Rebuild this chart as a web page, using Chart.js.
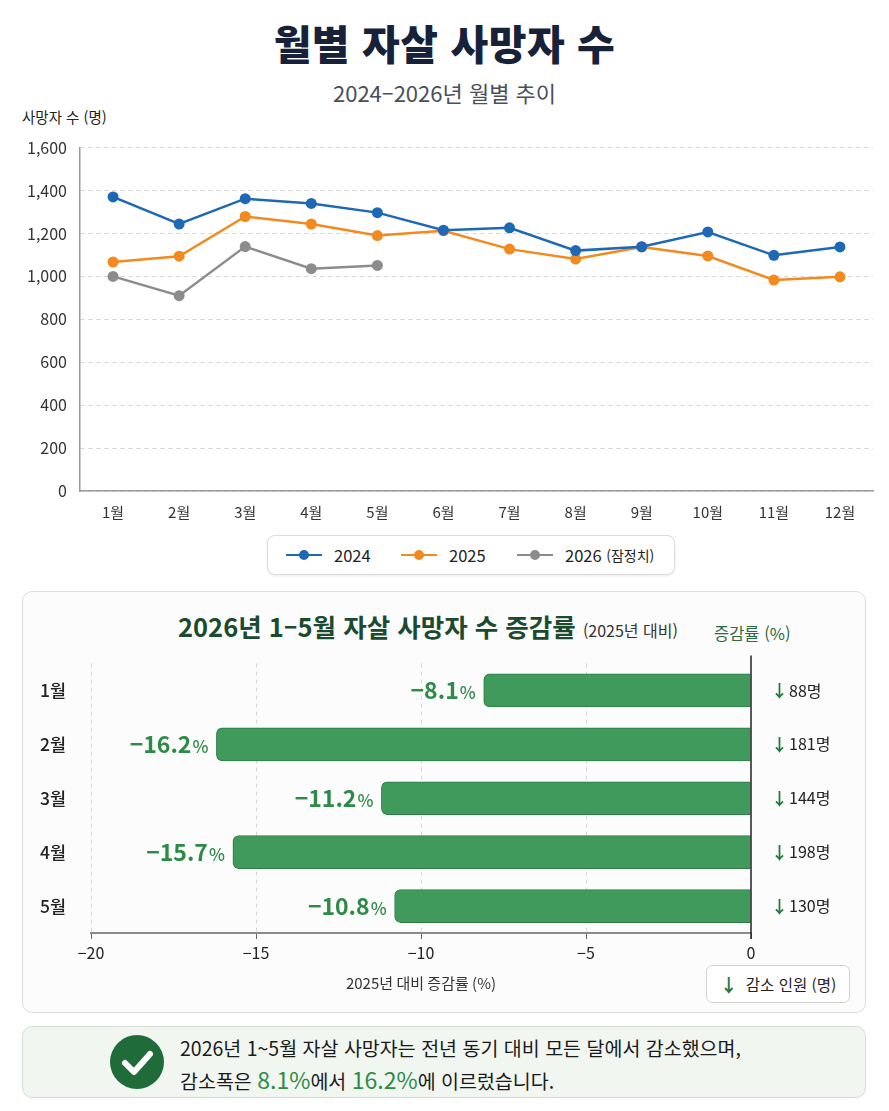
<!DOCTYPE html>
<html lang="ko">
<head>
<meta charset="utf-8">
<script src="https://cdn.jsdelivr.net/npm/chart.js@4.4.1/dist/chart.umd.min.js"></script>
<style>
  html, body { margin:0; padding:0; background:#fff; }
  body { width:889px; height:1111px; position:relative; overflow:hidden;
         font-family:"Noto Sans CJK KR","Noto Sans",sans-serif; color:#222; }
  .abs { position:absolute; }
  #title { left:0; width:889px; top:12px; text-align:center; font-size:41px; font-weight:900; color:#17213a; line-height:60px; letter-spacing:0.5px; }
  #subtitle { left:0; width:889px; top:77px; text-align:center; font-size:22px; color:#4a4f5a; line-height:30px; }
  #ytitle { left:22px; top:106px; font-size:14.5px; color:#222; line-height:22px; }
  #lineWrap { left:0; top:125px; width:889px; height:405px; }
  #legend { left:267px; top:535px; width:406px; height:38px; border:1px solid #dcdcdc; border-radius:8px; background:#fff;
            box-shadow:0 1px 3px rgba(0,0,0,0.08); }
  .li { position:absolute; top:0; height:38px; display:flex; align-items:center; font-size:16.5px; color:#222; }
  .ln { position:relative; width:36px; height:2.5px; margin-right:12px; }
  .ln i { position:absolute; left:13px; top:-4px; width:10px; height:10px; border-radius:50%; }
  #panel { left:22px; top:591px; width:842px; height:420px; border:1px solid #d9dfd9; border-radius:10px; background:#fbfcfb; }
  #ptitle { left:178px; top:607px; font-size:25.5px; font-weight:700; color:#1c4a2e; line-height:38px; white-space:nowrap; }
  #ptitle small { font-size:16px; font-weight:400; color:#333; }
  #rtitle { left:714px; top:621px; font-size:16.5px; color:#2a6a3e; line-height:24px; }
  #barWrap { left:22px; top:650px; width:844px; height:355px; }
  #blegend { left:706px; top:965px; width:142px; height:36px; border:1px solid #cfd5cf; border-radius:6px; background:#fff;
             display:flex; align-items:center; justify-content:center; font-size:15.5px; color:#222; }
  #blegend b { color:#1f7a3e; font-size:18px; margin-right:8px; }
  #note { left:22px; top:1026px; width:842px; height:70px; border:1px solid #d5dfd5; border-radius:10px; background:#f1f6f1; }
  #check { left:110px; top:1035px; width:54px; height:54px; }
  #l1 { left:180px; top:1034px; font-size:19.5px; color:#1a1a1a; line-height:28px; white-space:nowrap; }
  #l2 { left:180px; top:1063px; font-size:19.5px; color:#1a1a1a; line-height:32px; white-space:nowrap; }
  #l2 em { font-style:normal; color:#2e8b47; font-size:23px; }
</style>
</head>
<body>
<div id="title" class="abs">월별 자살 사망자 수</div>
<div id="subtitle" class="abs">2024–2026년 월별 추이</div>
<div id="ytitle" class="abs">사망자 수 (명)</div>
<div id="lineWrap" class="abs"><canvas id="lineChart"></canvas></div>
<div id="legend" class="abs">
  <div class="li" style="left:18px"><span class="ln" style="background:#1f68b5"><i style="background:#1f68b5"></i></span>2024</div>
  <div class="li" style="left:133px"><span class="ln" style="background:#f28a1f"><i style="background:#f28a1f"></i></span>2025</div>
  <div class="li" style="left:249px"><span class="ln" style="background:#8c8c8c"><i style="background:#8c8c8c"></i></span>2026&nbsp;<span style="font-size:14px">(잠정치)</span></div>
</div>

<div id="panel" class="abs"></div>
<div id="ptitle" class="abs">2026년 1–5월 자살 사망자 수 증감률 <small>(2025년 대비)</small></div>
<div id="rtitle" class="abs">증감률 (%)</div>
<div id="barWrap" class="abs"><canvas id="barChart"></canvas></div>
<div id="blegend" class="abs"><b>↓</b>감소 인원 (명)</div>

<div id="note" class="abs"></div>
<svg id="check" class="abs" viewBox="0 0 54 54">
  <circle cx="27" cy="27" r="27" fill="#1f6b3a"/>
  <path d="M15 28 L24 37 L40 19" fill="none" stroke="#fff" stroke-width="6" stroke-linecap="round" stroke-linejoin="round"/>
</svg>
<div id="l1" class="abs">2026년 1~5월 자살 사망자는 전년 동기 대비 모든 달에서 감소했으며,</div>
<div id="l2" class="abs">감소폭은 <em>8.1%</em>에서 <em>16.2%</em>에 이르렀습니다.</div>

<script>
const months = ['1월','2월','3월','4월','5월','6월','7월','8월','9월','10월','11월','12월'];
const deaths2024 = [1370, 1244, 1362, 1340, 1297, 1215, 1226, 1120, 1138, 1207, 1098, 1137];
const deaths2025 = [1067, 1094, 1279, 1244, 1190, 1212, 1127, 1081, 1137, 1095, 983, 998];
const deaths2026 = [1000, 910, 1139, 1036, 1051, null, null, null, null, null, null, null];

const barMonths = ['1월','2월','3월','4월','5월'];
const changeRates = [-8.1, -16.2, -11.2, -15.7, -10.8];
const decreaseCounts = [88, 181, 144, 198, 130];

const FONT = '"Noto Sans CJK KR","Noto Sans",sans-serif';
Chart.defaults.font.family = FONT;
Chart.defaults.color = '#333';

function lineDs(label, data, color) {
  return { label, data, borderColor: color, backgroundColor: color, borderWidth: 2.5,
           pointRadius: 5.5, pointHoverRadius: 5.5, pointBorderWidth: 0, tension: 0, spanGaps: false };
}

new Chart(document.getElementById('lineChart'), {
  type: 'line',
  data: { labels: months, datasets: [
    lineDs('2024', deaths2024, '#1f68b5'),
    lineDs('2025', deaths2025, '#f28a1f'),
    lineDs('2026 (잠정치)', deaths2026, '#8c8c8c')
  ]},
  options: {
    responsive: true, maintainAspectRatio: false, animation: false,
    layout: { padding: { top: 13, right: 16, left: 0, bottom: 0 } },
    plugins: { legend: { display: false }, tooltip: { enabled: false } },
    scales: {
      x: {
        offset: true,
        grid: { display: false, drawTicks: false, offset: true },
        border: { display: true, color: '#9a9a9a', width: 1.5 },
        ticks: { font: { size: 15 }, color: '#333', padding: 12 },
        afterFit: s => { s.height = 39; }
      },
      y: {
        min: 0, max: 1600,
        grid: { color: '#d6d6d6', lineWidth: 1, drawTicks: false },
        border: { display: true, color: '#9a9a9a', width: 1.5, dash: [4, 4] },
        ticks: { stepSize: 200, font: { size: 16 }, color: '#333', padding: 13,
                 callback: v => v.toLocaleString('en-US') },
        afterFit: s => { s.width = 80; }
      }
    }
  }
});

const barPlugin = {
  id: 'barLabels',
  afterDatasetsDraw(chart) {
    const { ctx, chartArea, scales: { x } } = chart;
    const zx = x.getPixelForValue(0);
    ctx.save();
    ctx.strokeStyle = '#222';
    ctx.lineWidth = 1.5;
    ctx.beginPath();
    ctx.moveTo(zx, chartArea.top - 8);
    ctx.lineTo(zx, chartArea.bottom + 6);
    ctx.stroke();
    const meta = chart.getDatasetMeta(0);
    meta.data.forEach((bar, i) => {
      const v = changeRates[i];
      const num = '−' + Math.abs(v).toFixed(1);
      ctx.textBaseline = 'middle';
      ctx.textAlign = 'right';
      ctx.fillStyle = '#2e8b47';
      ctx.font = '500 17px ' + FONT;
      const pw = ctx.measureText('%').width;
      const ex = bar.x - 8;
      ctx.fillText('%', ex, bar.y + 2);
      ctx.font = '700 23px ' + FONT;
      ctx.fillText(num, ex - pw - 1, bar.y);
      ctx.textAlign = 'left';
      ctx.font = '700 17px ' + FONT;
      ctx.fillStyle = '#1f7a3e';
      ctx.fillText('↓', zx + 20, bar.y);
      ctx.font = '400 16px ' + FONT;
      ctx.fillStyle = '#222';
      ctx.fillText(decreaseCounts[i] + '명', zx + 38, bar.y);
    });
    ctx.restore();
  }
};

new Chart(document.getElementById('barChart'), {
  type: 'bar',
  data: { labels: barMonths, datasets: [{
    data: changeRates, backgroundColor: '#3f9a5c', borderColor: '#2f7c48', borderWidth: 1,
    borderRadius: 6, barThickness: 33
  }]},
  plugins: [barPlugin],
  options: {
    indexAxis: 'y',
    responsive: true, maintainAspectRatio: false, animation: false,
    layout: { padding: { top: 12, right: 115, left: 18, bottom: 0 } },
    plugins: { legend: { display: false }, tooltip: { enabled: false } },
    scales: {
      x: {
        min: -20, max: 0,
        grid: { color: ctx => ctx.tick && ctx.tick.value === 0 ? 'rgba(0,0,0,0)' : '#d4d4d4', lineWidth: 1,
                drawTicks: true, tickLength: 6, tickColor: '#666', tickBorderDash: [] },
        border: { display: true, color: '#8a8a8a', width: 2, dash: [4, 4] },
        ticks: { stepSize: 5, font: { size: 16 }, color: '#222', padding: 4,
                 callback: v => (v < 0 ? '−' + Math.abs(v) : String(v)) },
        title: { display: true, text: '2025년 대비 증감률 (%)', font: { size: 15 }, color: '#333',
                 padding: { top: 10, bottom: 13 } },
        afterFit: s => { s.height = 72; }
      },
      y: {
        grid: { display: false, drawTicks: false },
        border: { display: false },
        ticks: { font: { size: 17.5, weight: '500' }, color: '#222', crossAlign: 'far' },
        afterFit: s => { s.width = 51; }
      }
    }
  }
});
</script>
</body>
</html>
